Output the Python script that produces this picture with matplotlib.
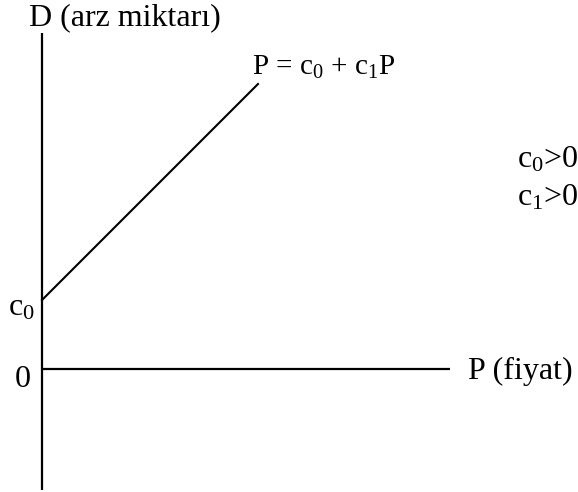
import numpy as np
import matplotlib
matplotlib.use("Agg")
import matplotlib.pyplot as plt

plt.rcParams['font.family'] = ['Liberation Serif', 'DejaVu Serif']
plt.rcParams['mathtext.fontset'] = 'custom'
plt.rcParams['mathtext.rm'] = 'Liberation Serif'
plt.rcParams['mathtext.it'] = 'Liberation Serif:italic'
plt.rcParams['mathtext.default'] = 'regular'

# arz fonksiyonu: D = c0 + c1*P (eksen birimleri keyfi)
c0 = 69.0
c1 = 1.0
P_ciz = np.array([0.0, 216.0])
D_ciz = c0 + c1 * P_ciz

eksen_P = [0.0, 408.0]
eksen_D = [-121.0, 336.0]

fig = plt.figure(figsize=(5.78, 4.92), dpi=100)
ax = fig.add_axes([0, 0, 1, 1])
ax.set_xlim(-42, 536)
ax.set_ylim(-123, 369)
ax.axis("off")

ax.plot([0, 0], eksen_D, color="black", lw=1.6, solid_capstyle="butt")
ax.plot(eksen_P, [0, 0], color="black", lw=1.6, solid_capstyle="butt")
ax.plot(P_ciz, D_ciz, color="black", lw=1.5)

fs = 23
ax.text(-13, 344, "D (arz miktarı)", fontsize=fs, ha="left", va="baseline")
ax.text(210, 294, "P = c$_0$ + c$_1$P", fontsize=21, ha="left", va="baseline")
ax.text(475, 201, "c$_0$>0", fontsize=fs, ha="left", va="baseline")
ax.text(475, 164, "c$_1$>0", fontsize=fs, ha="left", va="baseline")
ax.text(-34, 54, "c$_0$", fontsize=fs, ha="left", va="baseline")
ax.text(-27, -18, "0", fontsize=fs, ha="left", va="baseline")
ax.text(426, -10, "P (fiyat)", fontsize=fs, ha="left", va="baseline")

fig.savefig("out.png", dpi=100)
